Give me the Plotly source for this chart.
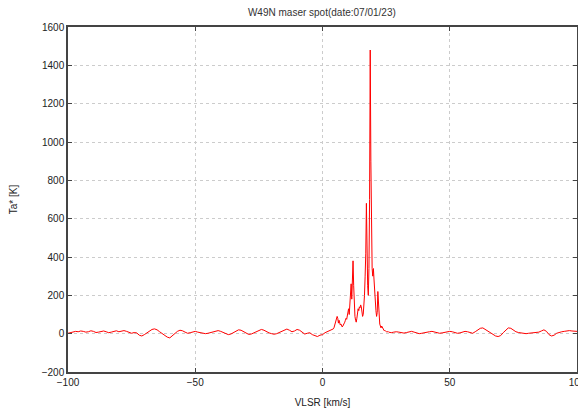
import plotly.graph_objects as go

# ---- data ----
# left baseline: channels from -100 to 3 km/s, step 1
left_start, left_step = -100.0, 1.0
left_ta = [2, 5, 10, 12, 10, 14, 12, 8, 10, 15,
           12, 6, 8, 12, 14, 10, 5, 8, 13, 15,
           10, 12, 16, 12, 5, 2, 6, 4, -8, -12,
           -5, 5, 15, 22, 25, 20, 10, 0, -10, -18,
           -22, -10, 5, 12, 18, 15, 8, 2, 5, 10,
           12, 8, 5, 2, 0, 2, 6, 10, 14, 16,
           12, 6, 0, -5, -2, 6, 14, 20, 18, 10,
           2, -4, -2, 4, 10, 16, 22, 18, 10, 4,
           0, -3, 0, 6, 12, 20, 24, 18, 10, 14,
           22, 18, 8, -2, 2, 5, -5, -10, -15, -8,
           -5, 5, 10, 15]
# emission region: channels from 4 to 26 km/s, step 0.25
mid_start, mid_step = 4.0, 0.25
mid_ta = [20, 25, 30, 40, 50, 60, 75, 90, 80, 55,
          70, 60, 45, 50, 40, 35, 40, 45, 50, 60,
          70, 80, 75, 95, 110, 130, 100, 150, 220, 260,
          180, 300, 380, 250, 120, 90, 70, 60, 80, 110,
          130, 120, 140, 135, 150, 140, 110, 90, 100, 140,
          200, 300, 420, 680, 350, 250, 200, 340, 700, 1480,
          900, 500, 340, 300, 340, 280, 200, 150, 120, 90,
          110, 220, 150, 80, 50, 40, 30, 40, 35, 25,
          20, 15, 18, 12, 10, 8, 10, 12, 8]
# right baseline: channels from 27 to 100 km/s, step 1
right_start, right_step = 27.0, 1.0
right_ta = [5, 8, 10, 8, 5, 3, 6, 10, 12, 8,
            4, 0, 2, 6, 8, 10, 12, 8, 5, 2,
            4, 8, 10, 12, 10, 6, 2, 4, 8, 12,
            10, 6, 2, 10, 18, 28, 30, 22, 12, 5,
            -5, -12, -15, -10, 5, 20, 30, 28, 18, 10,
            6, 4, 2, 0, 2, 4, 3, 5, 8, 14,
            20, 12, -5, -12, -8, 2, 8, 10, 12, 14,
            16, 14, 12, 12]

x_ticks = [-100, -50, 0, 50, 100]
y_ticks = [-200, 0, 200, 400, 600, 800, 1000, 1200, 1400, 1600]
title_text = "W49N maser spot(date:07/01/23)"
x_label = "VLSR [km/s]"
y_label = "Ta* [K]"

vel, ta = [], []
for start, step, vals in [(left_start, left_step, left_ta),
                          (mid_start, mid_step, mid_ta),
                          (right_start, right_step, right_ta)]:
    for i, v in enumerate(vals):
        vel.append(start + i * step)
        ta.append(v)

fig = go.Figure()
fig.add_trace(go.Scatter(x=vel, y=ta, mode="lines",
                         line=dict(color="red", width=1), showlegend=False))

axis_common = dict(
    showline=True, linecolor="#444", linewidth=1.5, mirror="allticks",
    ticks="inside", ticklen=4, tickcolor="#444",
    showgrid=True, gridcolor="#cccccc", griddash="dot", gridwidth=1,
    zeroline=False, tickfont=dict(size=10, color="#222"), automargin=False,
)
fig.update_xaxes(range=[-100, 100], tickvals=x_ticks,
                 title=dict(text=x_label, font=dict(size=10, color="#222"), standoff=12),
                 **axis_common)
fig.update_yaxes(range=[-200, 1600], tickvals=y_ticks,
                 title=dict(text=y_label, font=dict(size=10, color="#222"), standoff=22),
                 **axis_common)

fig.update_layout(
    width=578, height=404,
    margin=dict(l=60, r=9, t=19, b=40),
    paper_bgcolor="white", plot_bgcolor="white",
    font=dict(family="Liberation Sans, Arial, sans-serif", size=10, color="#222"),
    title=dict(text=title_text, x=0.543, xanchor="center", y=0.998, yanchor="top",
               font=dict(size=10, color="#333")),
)

fig.write_html("out.html")
